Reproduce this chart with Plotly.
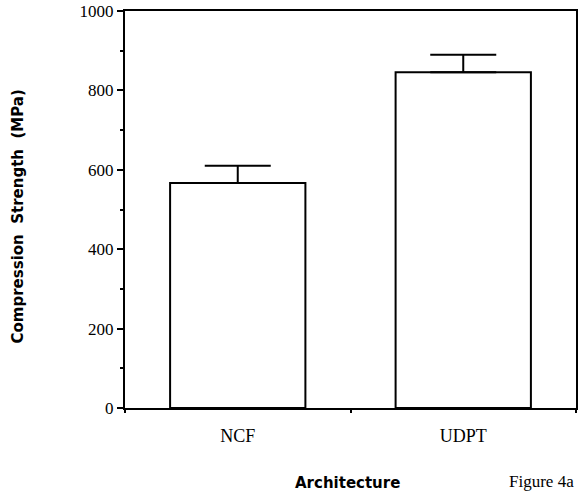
import plotly.graph_objects as go

# Compression strength by fabric architecture
architectures = ["NCF", "UDPT"]
strength_mpa = [567, 846]
strength_sd = [43, 44]

y_ticks = [0, 200, 400, 600, 800, 1000]

W, H = 579, 495
L, R, T, B = 125, 1, 11, 87
plot_w = W - L - R
plot_h = H - T - B

serif = "Liberation Serif"
sans = "DejaVu Sans"

fig = go.Figure()
fig.add_trace(go.Bar(
    x=architectures,
    y=strength_mpa,
    width=0.6,
    marker=dict(color="white", line=dict(color="black", width=2)),
    error_y=dict(
        type="data",
        symmetric=False,
        array=strength_sd,
        arrayminus=[0] * len(strength_sd),
        color="black",
        thickness=2,
        width=33,
    ),
    showlegend=False,
))

fig.update_layout(
    width=W,
    height=H,
    margin=dict(l=L, r=R, t=T, b=B, pad=0),
    paper_bgcolor="white",
    plot_bgcolor="white",
    xaxis=dict(
        type="category",
        range=[-0.5, 1.5],
        showline=True,
        linecolor="black",
        linewidth=2,
        mirror=True,
        ticks="outside",
        tickson="boundaries",
        ticklen=3,
        tickwidth=2,
        tickcolor="black",
        ticklabelstandoff=10,
        tickfont=dict(family=serif, size=18, color="black"),
        showgrid=False,
    ),
    yaxis=dict(
        range=[0, 1000],
        tickvals=y_ticks,
        ticktext=[str(v) for v in y_ticks],
        showline=True,
        linecolor="black",
        linewidth=2,
        mirror=True,
        ticks="outside",
        ticklen=6,
        tickwidth=2,
        tickcolor="black",
        minor=dict(dtick=100, tick0=0, ticks="outside", ticklen=3,
                   tickwidth=2, tickcolor="black", showgrid=False),
        tickfont=dict(family=serif, size=17, color="black"),
        showgrid=False,
        zeroline=False,
    ),
    annotations=[
        dict(
            text="<b>Compression\u00a0\u00a0Strength\u00a0\u00a0(MPa)</b>",
            xref="paper", yref="paper",
            x=(18 - L) / plot_w, y=(H - B - 216) / plot_h,
            xanchor="center", yanchor="middle",
            textangle=-90, showarrow=False,
            font=dict(family=sans, size=15, color="black"),
        ),
        dict(
            text="<b>Architecture</b>",
            xref="paper", yref="paper",
            x=(348 - L) / plot_w, y=(H - B - 483) / plot_h,
            xanchor="center", yanchor="middle",
            showarrow=False,
            font=dict(family=sans, size=15, color="black"),
        ),
        dict(
            text="Figure 4a",
            xref="paper", yref="paper",
            x=(543 - L) / plot_w, y=(H - B - 481) / plot_h,
            xanchor="center", yanchor="middle",
            showarrow=False,
            font=dict(family=serif, size=17, color="black"),
        ),
    ],
)

fig.write_html("out.html")
